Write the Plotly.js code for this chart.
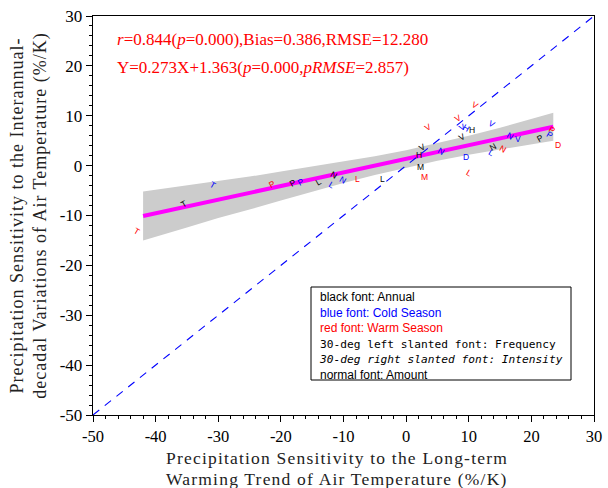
<!DOCTYPE html>
<html><head><meta charset="utf-8">
<script src="https://cdn.plot.ly/plotly-3.0.1.min.js"></script>
<style>body{margin:0;background:#fff}</style>
</head><body><div id="chart" style="width:608px;height:488px"></div>
<script>
// ---- data ----
const tickVals = [-50, -40, -30, -20, -10, 0, 10, 20, 30];
const tickText = ['-50', '-40', '-30', '-20', '-10', '0', '10', '20', '30'];

const oneToOneX = [-50, 30];
const oneToOneY = [-50, 30];

const fitX = [-42, 23.5];
const fitY = [-10.1, 7.78];

const bandX     = [-42, -35, -30, -25, -20, -15, -10, -5, 0, 5, 10, 15, 20, 23.5];
const bandUpper = [-5.2, -4.0, -3.1, -2.2, -1.2, -0.2, 0.8, 1.9, 3.1, 4.5, 6.0, 7.6, 9.3, 10.6];
const bandLower = [-15.0, -12.4, -10.5, -8.8, -7.0, -5.2, -3.5, -1.9, -0.4, 1.0, 2.2, 3.3, 4.3, 5.0];

// letter, season (A annual / C cold / W warm), metric (A amount / F frequency / I intensity)
const ptLabel  = ['T','T','T','P','P','P','L','N','L','N','L','L','V','N','H','M','M','V','V','V','H','H','V','V','N','V','P','P','P','D','N','L','N','D','L','V'];
const ptSeason = ['W','A','C','W','A','C','A','A','C','C','W','A','A','C','A','A','W','W','W','W','C','A','C','A','C','C','A','C','W','W','A','C','W','C','W','C'];
const ptMetric = ['I','F','I','F','F','F','F','I','I','I','A','A','F','I','A','A','A','F','F','I','I','A','I','F','I','A','F','I','I','A','F','I','I','A','I','F'];
const ptX = [-43.1,-35.6,-30.9,-21.4,-18.1,-16.8,-14.0,-11.5,-11.9,-10.1,-7.8,-3.7,2.6,5.5,2.0,2.3,3.0,3.5,8.3,11.0,9.6,10.5,13.7,8.9,16.6,17.9,21.4,23.0,23.3,24.3,13.8,13.7,15.5,9.6,10.1,9.0];
const ptY = [-13.2,-7.6,-3.9,-3.7,-3.5,-3.3,-3.3,-1.8,-3.9,-2.8,-2.6,-2.6,3.8,2.9,2.1,-0.3,-2.2,7.7,9.5,12.1,7.5,7.1,8.4,5.7,5.9,5.4,5.6,6.2,7.1,4.2,3.7,2.6,3.4,1.7,-1.4,7.8];

const xTitleLines = ['Precipitation Sensitivity to the Long-term', 'Warming Trend of Air Temperature (%/K)'];

// ---- styles ----
const seasonColor = {A: '#000000', C: '#0000ff', W: '#ff0000'};
const metricAngle = {A: 0, F: -30, I: 30};

const traces = [
  {
    x: bandX.concat(bandX.slice().reverse()),
    y: bandUpper.concat(bandLower.slice().reverse()),
    type: 'scatter', mode: 'lines', fill: 'toself',
    fillcolor: '#cccccc', line: {width: 0, color: 'rgba(0,0,0,0)'},
    hoverinfo: 'skip', showlegend: false
  },
  {
    x: fitX, y: fitY, type: 'scatter', mode: 'lines',
    line: {color: '#ff00ff', width: 4}, showlegend: false
  },
  {
    x: oneToOneX, y: oneToOneY, type: 'scatter', mode: 'lines',
    line: {color: '#0000ff', width: 1.1, dash: '8px,7px'}, showlegend: false
  }
];

const annotations = ptLabel.map((t, i) => ({
  x: ptX[i], y: ptY[i], xref: 'x', yref: 'y', text: t, showarrow: false,
  textangle: metricAngle[ptMetric[i]],
  font: {family: 'Liberation Sans, Arial, sans-serif', size: 8.5, color: seasonColor[ptSeason[i]]}
}));

const serif = 'Liberation Serif, Times New Roman, serif';
annotations.push({
  xref: 'paper', yref: 'paper', x: 0.044, y: 0.94, xanchor: 'left', yanchor: 'middle',
  text: '<i>r</i>=0.844(<i>p</i>=0.000),Bias=0.386,RMSE=12.280', showarrow: false,
  font: {family: serif, size: 17, color: '#ff0000'}
});
annotations.push({
  xref: 'paper', yref: 'paper', x: 0.044, y: 0.872, xanchor: 'left', yanchor: 'middle',
  text: 'Y=0.273X+1.363(<i>p</i>=0.000,<i>pRMSE</i>=2.857)', showarrow: false,
  font: {family: serif, size: 17, color: '#ff0000'}
});
const mono = 'font-family:DejaVu Sans Mono;font-size:11.2px';
annotations.push({
  xref: 'paper', yref: 'paper', x: (317 - 93) / 501, y: (415 - 288) / 399,
  xanchor: 'left', yanchor: 'top', align: 'left', showarrow: false,
  text: 'black font: Annual<br>' +
        '<span style="color:#0000ff">blue font: Cold Season</span><br>' +
        '<span style="color:#ff0000">red font: Warm Season</span><br>' +
        '<span style="' + mono + '">30-deg left slanted font: Frequency</span><br>' +
        '<span style="' + mono + '"><i>30-deg right slanted font: Intensity</i></span><br>' +
        'normal font: Amount',
  font: {family: 'Liberation Sans, Arial, sans-serif', size: 12, color: '#000000'}
});
// x-axis title (two lines placed under the tick labels)
const xTitleCenters = [458, 479];
xTitleLines.forEach((line, i) => {
  annotations.push({
    xref: 'paper', yref: 'paper', x: (337 - 93) / 501, y: (415 - xTitleCenters[i]) / 399,
    xanchor: 'center', yanchor: 'middle', showarrow: false, borderpad: 0,
    text: '<span style="letter-spacing:1.2px">' + line + '</span>',
    font: {family: serif, size: 17.5, color: '#222'}
  });
});

const axisCommon = {
  range: [-50, 30], tickvals: tickVals, ticktext: tickText,
  ticks: 'outside', ticklen: 6, tickwidth: 1, tickcolor: '#000',
  minor: {dtick: 2, ticks: 'outside', ticklen: 3, tickcolor: '#000'},
  showgrid: false, zeroline: false, showline: true, linecolor: '#000', linewidth: 1.3, mirror: true,
  tickfont: {family: serif, size: 17, color: '#000'}
};

const ls = '<span style="letter-spacing:1px">';
const layout = {
  width: 608, height: 488,
  margin: {l: 93, r: 14, t: 16, b: 73},
  paper_bgcolor: '#fff', plot_bgcolor: '#fff',
  showlegend: false,
  xaxis: Object.assign({}, axisCommon, {tickfont: {family: serif, size: 16.5, color: '#000'}}),
  yaxis: Object.assign({}, axisCommon, {
    title: {text: ls + 'Precipitation Sensitivity to the Interannual-</span><br>' + ls + 'decadal Variations of Air Temperature (%/K)</span>',
            font: {family: serif, size: 18, color: '#222'}, standoff: 8}
  }),
  shapes: [{
    type: 'rect', xref: 'paper', yref: 'paper',
    x0: (311 - 93) / 501, x1: (571 - 93) / 501, y0: (415 - 380) / 399, y1: (415 - 287) / 399,
    line: {color: '#000', width: 1}, fillcolor: '#fff', layer: 'above'
  }],
  annotations: annotations
};

Plotly.newPlot('chart', traces, layout, {displayModeBar: false, staticPlot: true});
</script>
</body></html>
